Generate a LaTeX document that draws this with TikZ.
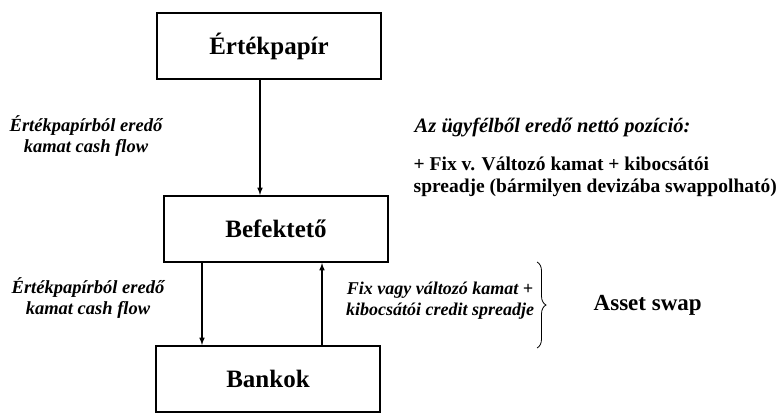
\documentclass[tikz,border=0pt]{standalone}
\usepackage{fontspec}
\setmainfont{Liberation Serif}
\usetikzlibrary{decorations.pathreplacing}
\tikzset{
  doboz/.style={draw,line width=2pt,minimum width=224pt,minimum height=66pt,
    font=\fontsize{25}{28}\selectfont\bfseries},
  cimke/.style={font=\fontsize{18.5}{21}\selectfont\bfseries\itshape,align=center},
  szoveg/.style={font=\fontsize{19.5}{22}\selectfont\bfseries,align=left}
}
\begin{document}
\begin{tikzpicture}[x=1pt,y=-1pt,>=latex,thick]
\useasboundingbox (0,0) rectangle (778,414);
\node[doboz] (ertek) at (269,46) {Értékpapír};
\node[doboz] (bef) at (276,229) {Befektető};
\node[doboz] (bank) at (268,379) {Bankok};
\draw[->,line width=1.5pt] ([xshift=-9pt]ertek.south) -- ([xshift=-9pt]ertek.south |- bef.north);
\draw[->,line width=1.5pt] ([xshift=-74pt]bef.south) -- ([xshift=-74pt]bef.south |- bank.north);
\draw[->,line width=1.5pt] ([xshift=46pt]bef.south |- bank.north) -- ([xshift=46pt]bef.south);
\node[cimke] (cf1) at (86,136) {Értékpapírból eredő\\kamat cash flow};
\node[cimke] (cf2) at (88,298) {Értékpapírból eredő\\kamat cash flow};
\node[cimke,anchor=west,font=\fontsize{20.5}{22}\selectfont\bfseries\itshape] (pozi) at (411,127) {Az ügyfélből eredő nettó pozíció:};
\node[szoveg,anchor=north west] (fix) at (410,153) {+ Fix v. Változó kamat + kibocsátói\\spreadje (bármilyen devizába swappolható)};
\node[cimke,font=\fontsize{18}{21}\selectfont\bfseries\itshape] (kamat) at (440,301) {Fix vagy változó kamat +\\kibocsátói credit spreadje};
\coordinate (kfel) at (537,262);
\coordinate (kle) at (537,348);
\draw[thick,decorate,decoration={brace,amplitude=9pt}] (kfel) -- (kle);
\node[font=\fontsize{23}{26}\selectfont\bfseries,anchor=west] (asset) at (590,305) {Asset swap};
\end{tikzpicture}
\end{document}
